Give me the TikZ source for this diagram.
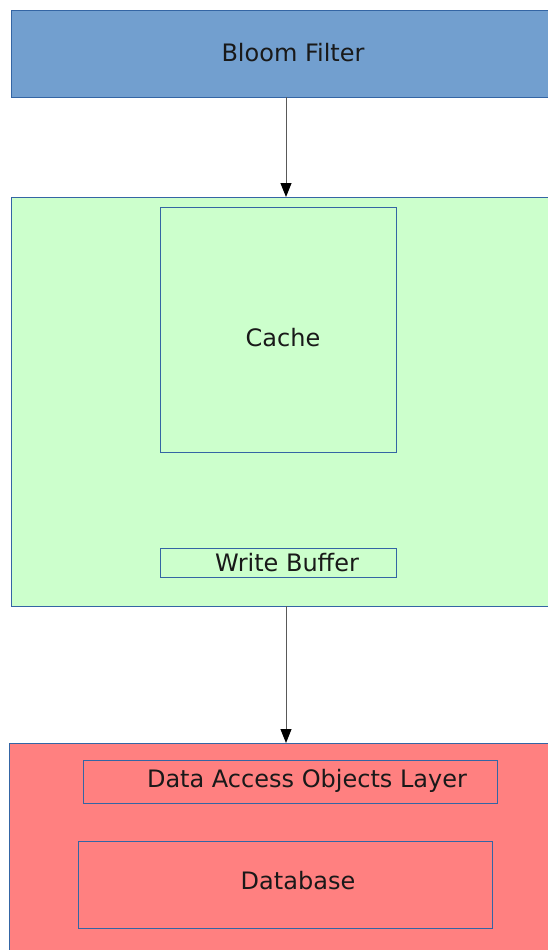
\documentclass[tikz,border=0pt]{standalone}
\usepackage{fontspec}
\setmainfont{DejaVu Sans}
\usetikzlibrary{arrows.meta}
\definecolor{bloomblue}{HTML}{729FCF}
\definecolor{edgeblue}{HTML}{3465A4}
\definecolor{cachegreen}{HTML}{CCFFCC}
\definecolor{storered}{HTML}{FF8080}
\tikzset{
  layer/.style={draw=edgeblue, line width=0.9pt},
  inner/.style={draw=edgeblue, line width=0.8pt},
  lbl/.style={font=\fontsize{24}{28}\selectfont, text=black!90, inner sep=0pt},
  flow/.style={-{Triangle[length=14pt,width=11pt,color=black]}, line width=1pt, draw=black!65}
}
\begin{document}
\begin{tikzpicture}[x=1pt,y=-1pt]
\useasboundingbox (0,0) rectangle (548,950);
\begin{scope}
\clip (0,0) rectangle (548,950);
% top layer: bloom filter
\path[layer, fill=bloomblue] (11,10) rectangle (560,97);
\node[lbl] (bloom) at (293,53) {Bloom Filter};
\coordinate (bloomout) at (286,97);
% middle layer: cache and write buffer
\path[layer, fill=cachegreen] (11,197) rectangle (560,606);
\coordinate (midin) at (286,197);
\coordinate (midout) at (286,606);
\path[inner] (160,207) rectangle (396,452);
\node[lbl] (cache) at (283,338) {Cache};
\path[inner] (160,548) rectangle (396,577);
\node[lbl] (wbuf) at (287,563) {Write Buffer};
% bottom layer: data access and database
\path[layer, fill=storered] (9,743) rectangle (560,960);
\coordinate (botin) at (286,743);
\path[inner] (83,760) rectangle (497,803);
\node[lbl] (dao) at (307,781) {Data Access Objects Layer};
\path[inner] (78,841) rectangle (492,928);
\node[lbl] (db) at (298,881) {Database};
% connectors
\draw[flow] (bloomout) -- (midin);
\draw[flow] (midout) -- (botin);
\end{scope}
\end{tikzpicture}
\end{document}
